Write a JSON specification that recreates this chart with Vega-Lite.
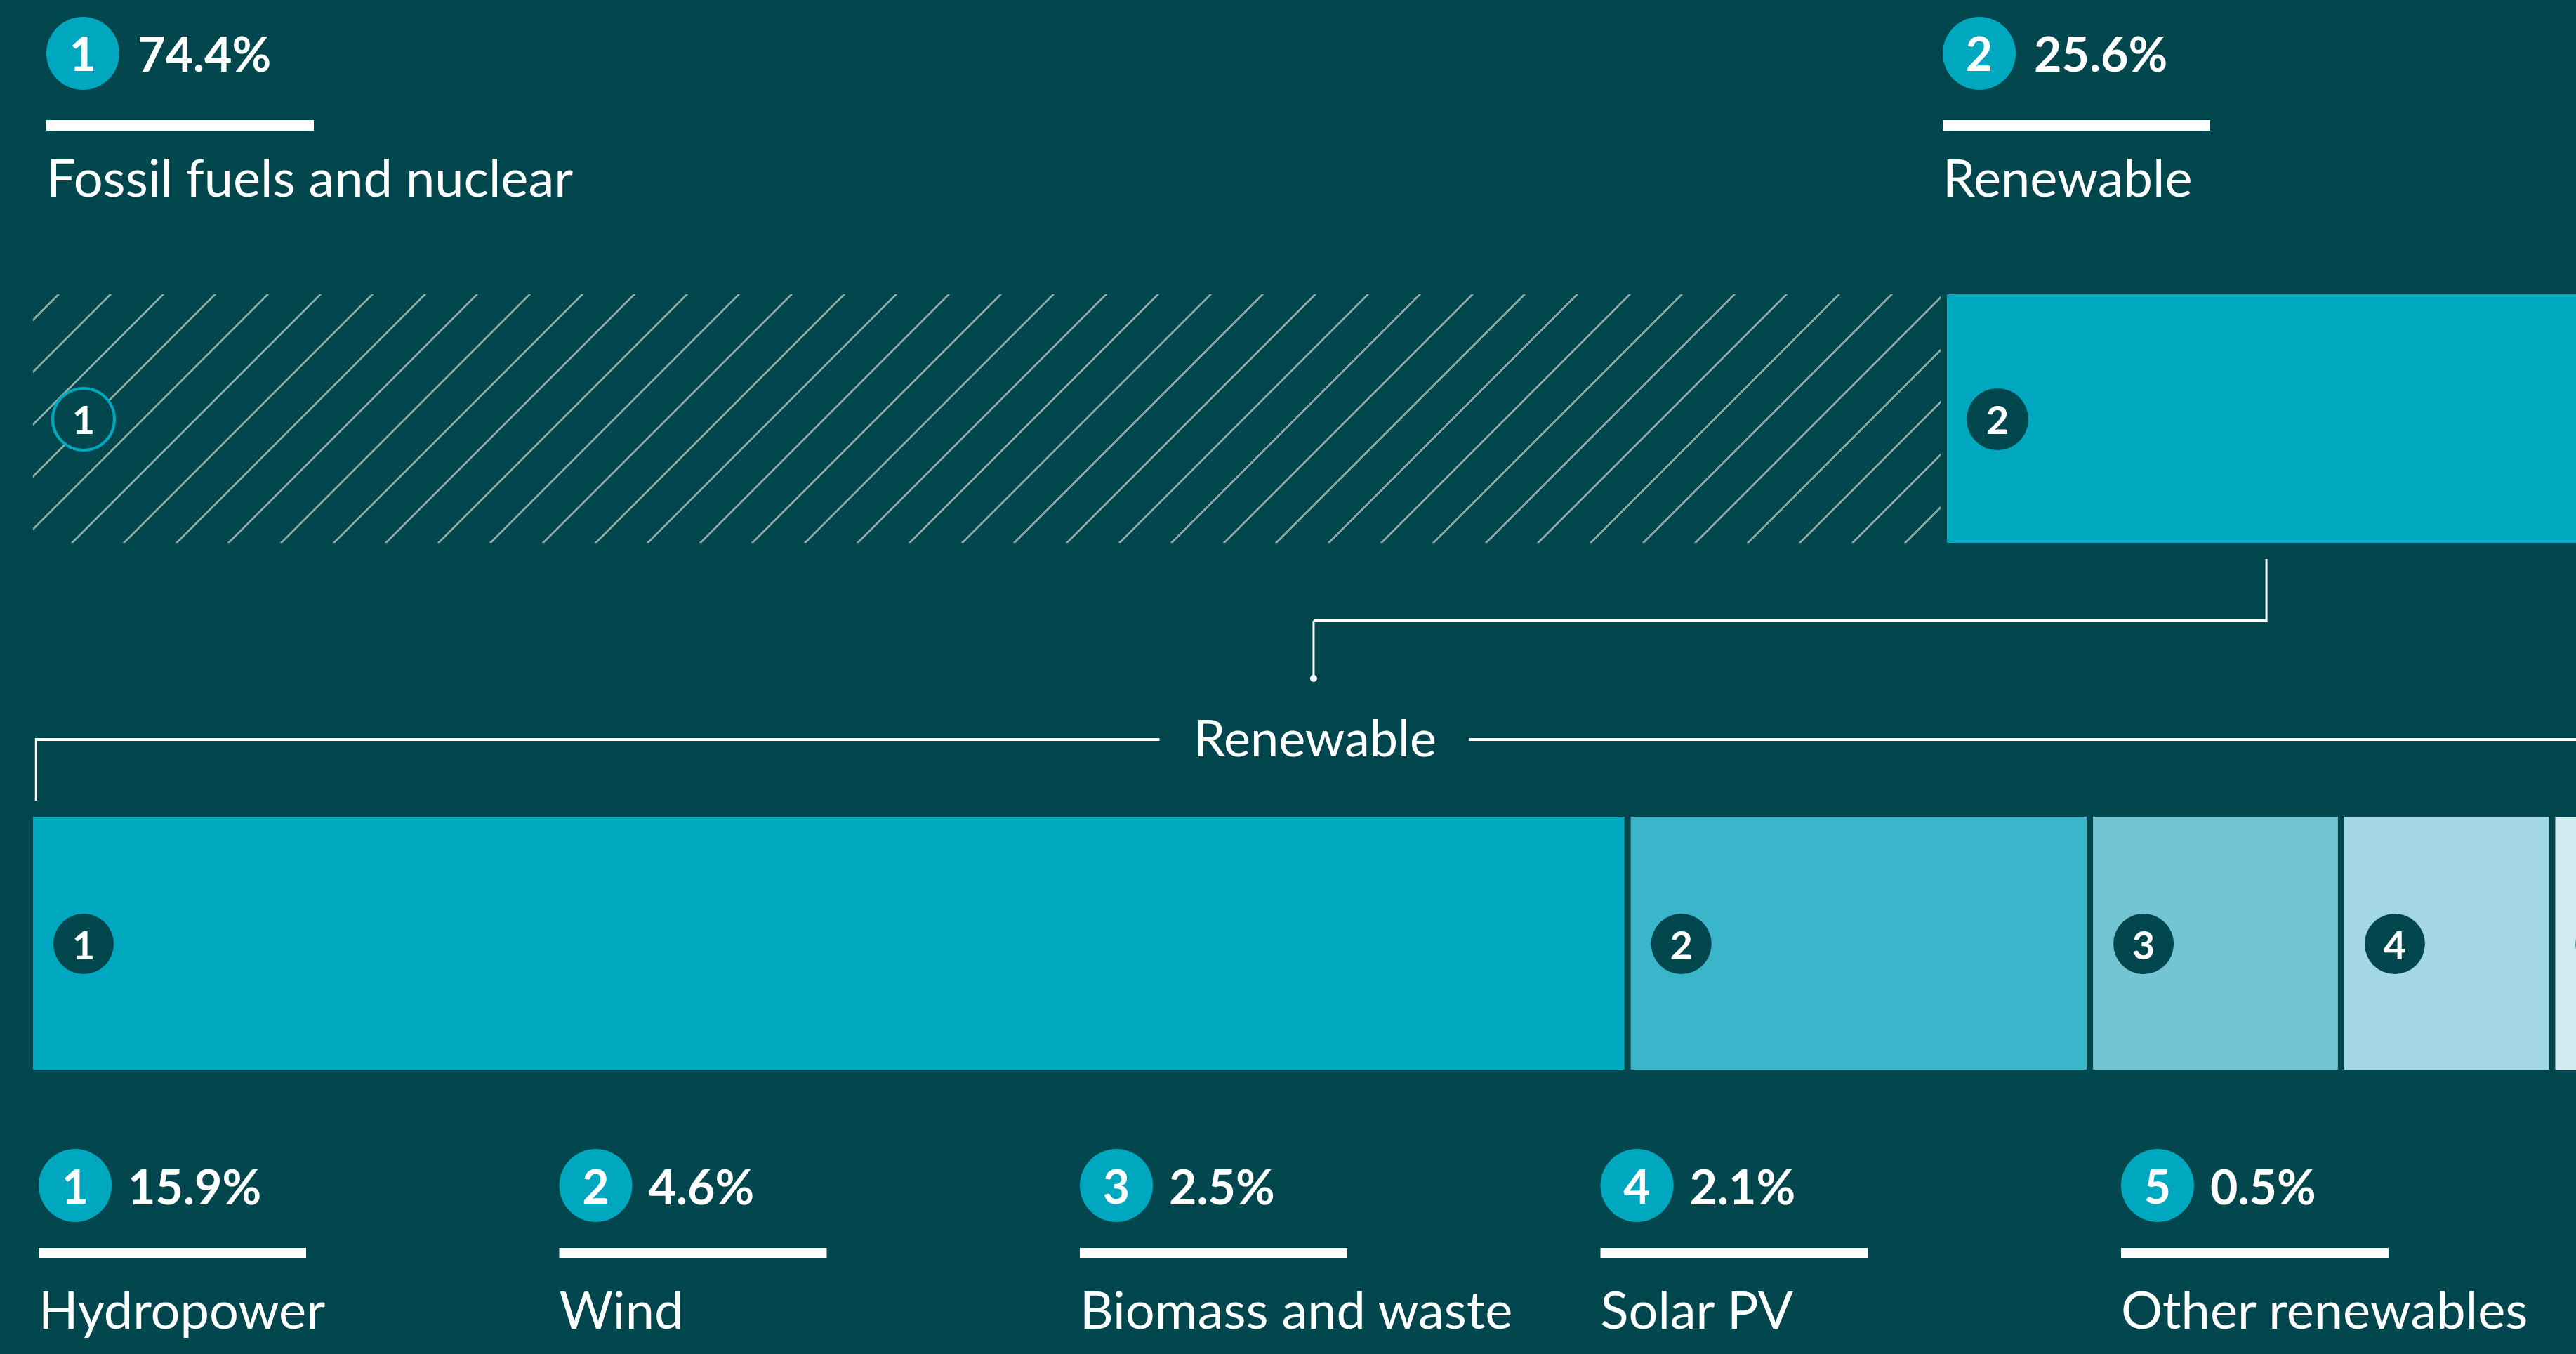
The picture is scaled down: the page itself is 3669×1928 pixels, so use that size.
{
 "$schema": "https://vega.github.io/schema/vega-lite/v6.json",
 "width": 3669, "height": 1928, "autosize": {"type": "none"}, "padding": 0,
 "background": "#02474d",
 "config": {"view": {"stroke": null}, "font": "Lato", "text": {"font": "Lato"}},
 "datasets": {
  "top": [
   {"id": 1, "label": "Fossil fuels and nuclear", "share": 0.744},
   {"id": 2, "label": "Renewable", "share": 0.256}
  ],
  "renew": [
   {"id": 1, "label": "Hydropower", "share": 0.159},
   {"id": 2, "label": "Wind", "share": 0.046},
   {"id": 3, "label": "Biomass and waste", "share": 0.025},
   {"id": 4, "label": "Solar PV", "share": 0.021},
   {"id": 5, "label": "Other renewables", "share": 0.005}
  ]
 },
 "resolve": {"scale": {"x": "independent"}},
 "layer": [
  {
   "data": {"name": "top"},
   "transform": [{"stack": "share", "groupby": [], "sort": [{"field": "id", "order": "ascending"}], "as": ["x0", "x1"]}],
   "encoding": {"x": {"field": "x0", "type": "quantitative", "scale": {"domain": [0, 1], "range": [47, 3711], "nice": false, "zero": false}, "axis": null}},
   "layer": [
    {"transform": [{"filter": "datum.id == 1"}],
     "mark": {"type": "rect", "clip": true, "x2Offset": -9, "fill": {"gradient": "linear", "x1": 0, "y1": 0, "x2": 1.1219, "y2": 0.1462, "stops": [
      {"offset": 0, "color": "#02474d"},
      {"offset": 0.01100, "color": "#02474d"},{"offset": 0.01100, "color": "#8aaaa2"},{"offset": 0.01230, "color": "#8aaaa2"},{"offset": 0.01230, "color": "#02474d"},
      {"offset": 0.03506, "color": "#02474d"},{"offset": 0.03506, "color": "#8aaaa2"},{"offset": 0.03636, "color": "#8aaaa2"},{"offset": 0.03636, "color": "#02474d"},
      {"offset": 0.05913, "color": "#02474d"},{"offset": 0.05913, "color": "#8aaaa2"},{"offset": 0.06043, "color": "#8aaaa2"},{"offset": 0.06043, "color": "#02474d"},
      {"offset": 0.08319, "color": "#02474d"},{"offset": 0.08319, "color": "#8aaaa2"},{"offset": 0.08449, "color": "#8aaaa2"},{"offset": 0.08449, "color": "#02474d"},
      {"offset": 0.10726, "color": "#02474d"},{"offset": 0.10726, "color": "#8aaaa2"},{"offset": 0.10856, "color": "#8aaaa2"},{"offset": 0.10856, "color": "#02474d"},
      {"offset": 0.13132, "color": "#02474d"},{"offset": 0.13132, "color": "#8aaaa2"},{"offset": 0.13262, "color": "#8aaaa2"},{"offset": 0.13262, "color": "#02474d"},
      {"offset": 0.15539, "color": "#02474d"},{"offset": 0.15539, "color": "#8aaaa2"},{"offset": 0.15669, "color": "#8aaaa2"},{"offset": 0.15669, "color": "#02474d"},
      {"offset": 0.17945, "color": "#02474d"},{"offset": 0.17945, "color": "#8aaaa2"},{"offset": 0.18075, "color": "#8aaaa2"},{"offset": 0.18075, "color": "#02474d"},
      {"offset": 0.20352, "color": "#02474d"},{"offset": 0.20352, "color": "#8aaaa2"},{"offset": 0.20482, "color": "#8aaaa2"},{"offset": 0.20482, "color": "#02474d"},
      {"offset": 0.22758, "color": "#02474d"},{"offset": 0.22758, "color": "#8aaaa2"},{"offset": 0.22888, "color": "#8aaaa2"},{"offset": 0.22888, "color": "#02474d"},
      {"offset": 0.25165, "color": "#02474d"},{"offset": 0.25165, "color": "#8aaaa2"},{"offset": 0.25295, "color": "#8aaaa2"},{"offset": 0.25295, "color": "#02474d"},
      {"offset": 0.27571, "color": "#02474d"},{"offset": 0.27571, "color": "#8aaaa2"},{"offset": 0.27701, "color": "#8aaaa2"},{"offset": 0.27701, "color": "#02474d"},
      {"offset": 0.29977, "color": "#02474d"},{"offset": 0.29977, "color": "#8aaaa2"},{"offset": 0.30107, "color": "#8aaaa2"},{"offset": 0.30107, "color": "#02474d"},
      {"offset": 0.32384, "color": "#02474d"},{"offset": 0.32384, "color": "#8aaaa2"},{"offset": 0.32514, "color": "#8aaaa2"},{"offset": 0.32514, "color": "#02474d"},
      {"offset": 0.34790, "color": "#02474d"},{"offset": 0.34790, "color": "#8aaaa2"},{"offset": 0.34920, "color": "#8aaaa2"},{"offset": 0.34920, "color": "#02474d"},
      {"offset": 0.37197, "color": "#02474d"},{"offset": 0.37197, "color": "#8aaaa2"},{"offset": 0.37327, "color": "#8aaaa2"},{"offset": 0.37327, "color": "#02474d"},
      {"offset": 0.39603, "color": "#02474d"},{"offset": 0.39603, "color": "#8aaaa2"},{"offset": 0.39733, "color": "#8aaaa2"},{"offset": 0.39733, "color": "#02474d"},
      {"offset": 0.42010, "color": "#02474d"},{"offset": 0.42010, "color": "#8aaaa2"},{"offset": 0.42140, "color": "#8aaaa2"},{"offset": 0.42140, "color": "#02474d"},
      {"offset": 0.44416, "color": "#02474d"},{"offset": 0.44416, "color": "#8aaaa2"},{"offset": 0.44546, "color": "#8aaaa2"},{"offset": 0.44546, "color": "#02474d"},
      {"offset": 0.46823, "color": "#02474d"},{"offset": 0.46823, "color": "#8aaaa2"},{"offset": 0.46953, "color": "#8aaaa2"},{"offset": 0.46953, "color": "#02474d"},
      {"offset": 0.49229, "color": "#02474d"},{"offset": 0.49229, "color": "#8aaaa2"},{"offset": 0.49359, "color": "#8aaaa2"},{"offset": 0.49359, "color": "#02474d"},
      {"offset": 0.51635, "color": "#02474d"},{"offset": 0.51635, "color": "#8aaaa2"},{"offset": 0.51765, "color": "#8aaaa2"},{"offset": 0.51765, "color": "#02474d"},
      {"offset": 0.54042, "color": "#02474d"},{"offset": 0.54042, "color": "#8aaaa2"},{"offset": 0.54172, "color": "#8aaaa2"},{"offset": 0.54172, "color": "#02474d"},
      {"offset": 0.56448, "color": "#02474d"},{"offset": 0.56448, "color": "#8aaaa2"},{"offset": 0.56578, "color": "#8aaaa2"},{"offset": 0.56578, "color": "#02474d"},
      {"offset": 0.58855, "color": "#02474d"},{"offset": 0.58855, "color": "#8aaaa2"},{"offset": 0.58985, "color": "#8aaaa2"},{"offset": 0.58985, "color": "#02474d"},
      {"offset": 0.61261, "color": "#02474d"},{"offset": 0.61261, "color": "#8aaaa2"},{"offset": 0.61391, "color": "#8aaaa2"},{"offset": 0.61391, "color": "#02474d"},
      {"offset": 0.63668, "color": "#02474d"},{"offset": 0.63668, "color": "#8aaaa2"},{"offset": 0.63798, "color": "#8aaaa2"},{"offset": 0.63798, "color": "#02474d"},
      {"offset": 0.66074, "color": "#02474d"},{"offset": 0.66074, "color": "#8aaaa2"},{"offset": 0.66204, "color": "#8aaaa2"},{"offset": 0.66204, "color": "#02474d"},
      {"offset": 0.68481, "color": "#02474d"},{"offset": 0.68481, "color": "#8aaaa2"},{"offset": 0.68611, "color": "#8aaaa2"},{"offset": 0.68611, "color": "#02474d"},
      {"offset": 0.70887, "color": "#02474d"},{"offset": 0.70887, "color": "#8aaaa2"},{"offset": 0.71017, "color": "#8aaaa2"},{"offset": 0.71017, "color": "#02474d"},
      {"offset": 0.73294, "color": "#02474d"},{"offset": 0.73294, "color": "#8aaaa2"},{"offset": 0.73424, "color": "#8aaaa2"},{"offset": 0.73424, "color": "#02474d"},
      {"offset": 0.75700, "color": "#02474d"},{"offset": 0.75700, "color": "#8aaaa2"},{"offset": 0.75830, "color": "#8aaaa2"},{"offset": 0.75830, "color": "#02474d"},
      {"offset": 0.78106, "color": "#02474d"},{"offset": 0.78106, "color": "#8aaaa2"},{"offset": 0.78236, "color": "#8aaaa2"},{"offset": 0.78236, "color": "#02474d"},
      {"offset": 0.80513, "color": "#02474d"},{"offset": 0.80513, "color": "#8aaaa2"},{"offset": 0.80643, "color": "#8aaaa2"},{"offset": 0.80643, "color": "#02474d"},
      {"offset": 0.82919, "color": "#02474d"},{"offset": 0.82919, "color": "#8aaaa2"},{"offset": 0.83049, "color": "#8aaaa2"},{"offset": 0.83049, "color": "#02474d"},
      {"offset": 0.85326, "color": "#02474d"},{"offset": 0.85326, "color": "#8aaaa2"},{"offset": 0.85456, "color": "#8aaaa2"},{"offset": 0.85456, "color": "#02474d"},
      {"offset": 0.87732, "color": "#02474d"},{"offset": 0.87732, "color": "#8aaaa2"},{"offset": 0.87862, "color": "#8aaaa2"},{"offset": 0.87862, "color": "#02474d"},
      {"offset": 0.90139, "color": "#02474d"},{"offset": 0.90139, "color": "#8aaaa2"},{"offset": 0.90269, "color": "#8aaaa2"},{"offset": 0.90269, "color": "#02474d"},
      {"offset": 0.92545, "color": "#02474d"},{"offset": 0.92545, "color": "#8aaaa2"},{"offset": 0.92675, "color": "#8aaaa2"},{"offset": 0.92675, "color": "#02474d"},
      {"offset": 0.94952, "color": "#02474d"},{"offset": 0.94952, "color": "#8aaaa2"},{"offset": 0.95082, "color": "#8aaaa2"},{"offset": 0.95082, "color": "#02474d"},
      {"offset": 0.97358, "color": "#02474d"},{"offset": 0.97358, "color": "#8aaaa2"},{"offset": 0.97488, "color": "#8aaaa2"},{"offset": 0.97488, "color": "#02474d"},
      {"offset": 1, "color": "#02474d"}
     ]}},
     "encoding": {"x2": {"field": "x1"}, "y": {"value": 419}, "y2": {"value": 773}}},
    {"transform": [{"filter": "datum.id == 2"}],
     "mark": {"type": "rect", "clip": true, "fill": "#00a8bf"},
     "encoding": {"x2": {"field": "x1"}, "y": {"value": 419}, "y2": {"value": 773}}},
    {"mark": {"type": "point", "shape": "circle", "filled": true, "opacity": 1, "size": 7744, "xOffset": 72, "fill": "#02474d", "stroke": "#00a8bf"},
     "encoding": {"y": {"value": 597}, "strokeWidth": {"condition": {"test": "datum.id == 1", "value": 4}, "value": 0}}},
    {"mark": {"type": "text", "dx": 72, "align": "center", "baseline": "alphabetic", "font": "Lato", "fontWeight": "bold", "fontSize": 56, "fill": "#ffffff"},
     "encoding": {"text": {"field": "id", "type": "nominal"}, "y": {"value": 618}}},
    {"transform": [{"filter": "datum.id == 2"}],
     "mark": {"type": "rule", "color": "#ffffff", "strokeWidth": 3},
     "encoding": {"x": {"datum": 0.8682, "type": "quantitative"}, "y": {"value": 796}, "y2": {"value": 886}}},
    {"transform": [{"filter": "datum.id == 2"}],
     "mark": {"type": "rule", "color": "#ffffff", "strokeWidth": 4},
     "encoding": {"x": {"datum": 0.4978, "type": "quantitative"}, "x2": {"datum": 0.8682}, "y": {"value": 884}}},
    {"transform": [{"filter": "datum.id == 2"}],
     "mark": {"type": "rule", "color": "#ffffff", "strokeWidth": 3},
     "encoding": {"x": {"datum": 0.4978, "type": "quantitative"}, "y": {"value": 884}, "y2": {"value": 966}}},
    {"transform": [{"filter": "datum.id == 2"}],
     "mark": {"type": "point", "shape": "circle", "filled": true, "opacity": 1, "size": 100, "fill": "#ffffff", "strokeWidth": 0},
     "encoding": {"x": {"datum": 0.4978, "type": "quantitative"}, "y": {"value": 966}}},
    {"transform": [{"filter": "datum.id == 2"}],
     "mark": {"type": "text", "align": "center", "baseline": "alphabetic", "fontSize": 72, "fill": "#ffffff"},
     "encoding": {"x": {"datum": 0.4984, "type": "quantitative"}, "text": {"field": "label", "type": "nominal"}, "y": {"value": 1077}}}
   ]
  },
  {
   "data": {"name": "top"},
   "encoding": {"x": {"field": "id", "type": "quantitative", "scale": {"domain": [1, 2], "range": [66, 2767], "nice": false, "zero": false}, "axis": null}},
   "layer": [
    {"mark": {"type": "point", "shape": "circle", "filled": true, "opacity": 1, "size": 10816, "xOffset": 52, "fill": "#00a8bf", "strokeWidth": 0},
     "encoding": {"y": {"value": 76}}},
    {"mark": {"type": "text", "dx": 52, "align": "center", "baseline": "alphabetic", "fontWeight": "bold", "fontSize": 66, "fill": "#ffffff"},
     "encoding": {"text": {"field": "id", "type": "nominal"}, "y": {"value": 101}}},
    {"mark": {"type": "text", "dx": 130, "align": "left", "baseline": "alphabetic", "fontWeight": "bold", "fontSize": 68, "fill": "#ffffff"},
     "encoding": {"text": {"field": "share", "type": "quantitative", "format": ".1%"}, "y": {"value": 102}}},
    {"mark": {"type": "rule", "x2Offset": 381, "strokeWidth": 15, "color": "#ffffff"},
     "encoding": {"x2": {"field": "id"}, "y": {"value": 178.5}}},
    {"mark": {"type": "text", "align": "left", "baseline": "alphabetic", "fontSize": 74, "fill": "#ffffff"},
     "encoding": {"text": {"field": "label", "type": "nominal"}, "y": {"value": 280}}}
   ]
  },
  {
   "data": {"name": "renew"},
   "transform": [{"stack": "share", "groupby": [], "sort": [{"field": "id", "order": "ascending"}], "as": ["x0", "x1"]}],
   "encoding": {"x": {"field": "x0", "type": "quantitative", "scale": {"domain": [0, 0.256], "range": [47, 3711], "nice": false, "zero": false}, "axis": null}},
   "layer": [
    {"mark": {"type": "rect", "clip": true, "x2Offset": -9},
     "encoding": {"x2": {"field": "x1"}, "y": {"value": 1163}, "y2": {"value": 1523},
      "fill": {"field": "id", "type": "nominal", "scale": {"domain": [1, 2, 3, 4, 5], "range": ["#00a8bf", "#3bb5c9", "#74c5d4", "#a3d7e3", "#d2ebf0"]}, "legend": null}}},
    {"mark": {"type": "point", "shape": "circle", "filled": true, "opacity": 1, "size": 7400, "xOffset": 72, "fill": "#02474d", "strokeWidth": 0},
     "encoding": {"y": {"value": 1344}}},
    {"mark": {"type": "text", "dx": 72, "align": "center", "baseline": "alphabetic", "fontWeight": "bold", "fontSize": 56, "fill": "#ffffff"},
     "encoding": {"text": {"field": "id", "type": "nominal"}, "y": {"value": 1366}}},
    {"transform": [{"filter": "datum.id == 1"}],
     "mark": {"type": "rule", "color": "#ffffff", "strokeWidth": 4},
     "encoding": {"x": {"datum": 0.0003, "type": "quantitative"}, "x2": {"datum": 0.1121}, "y": {"value": 1053}}},
    {"transform": [{"filter": "datum.id == 1"}],
     "mark": {"type": "rule", "color": "#ffffff", "strokeWidth": 4, "clip": true},
     "encoding": {"x": {"datum": 0.1429, "type": "quantitative"}, "x2": {"datum": 0.256}, "y": {"value": 1053}}},
    {"transform": [{"filter": "datum.id == 1"}],
     "mark": {"type": "rule", "color": "#ffffff", "strokeWidth": 3},
     "encoding": {"x": {"datum": 0.0003, "type": "quantitative"}, "y": {"value": 1051}, "y2": {"value": 1140}}}
   ]
  },
  {
   "data": {"name": "renew"},
   "encoding": {"x": {"field": "id", "type": "quantitative", "scale": {"domain": [1, 5], "range": [55, 3021], "nice": false, "zero": false}, "axis": null}},
   "layer": [
    {"mark": {"type": "point", "shape": "circle", "filled": true, "opacity": 1, "size": 10816, "xOffset": 52, "fill": "#00a8bf", "strokeWidth": 0},
     "encoding": {"y": {"value": 1688}}},
    {"mark": {"type": "text", "dx": 52, "align": "center", "baseline": "alphabetic", "fontWeight": "bold", "fontSize": 66, "fill": "#ffffff"},
     "encoding": {"text": {"field": "id", "type": "nominal"}, "y": {"value": 1714}}},
    {"mark": {"type": "text", "dx": 127, "align": "left", "baseline": "alphabetic", "fontWeight": "bold", "fontSize": 68, "fill": "#ffffff"},
     "encoding": {"text": {"field": "share", "type": "quantitative", "format": ".1%"}, "y": {"value": 1715}}},
    {"mark": {"type": "rule", "x2Offset": 381, "strokeWidth": 15, "color": "#ffffff"},
     "encoding": {"x2": {"field": "id"}, "y": {"value": 1784.5}}},
    {"mark": {"type": "text", "align": "left", "baseline": "alphabetic", "fontSize": 74, "fill": "#ffffff"},
     "encoding": {"text": {"field": "label", "type": "nominal"}, "y": {"value": 1892}}}
   ]
  }
 ]
}
